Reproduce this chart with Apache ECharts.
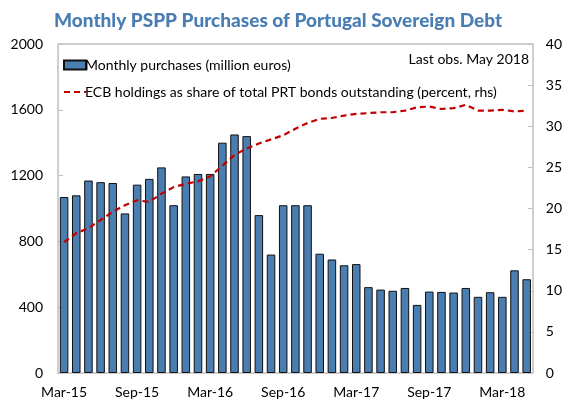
<!DOCTYPE html>
<html>
<head>
<meta charset="utf-8">
<script src="https://cdn.jsdelivr.net/npm/echarts@6/dist/echarts.min.js"></script>
<style>
    html, body { margin: 0; padding: 0; background: #fff; }
    #main { width: 565px; height: 407px; }
</style>
</head>
<body>
<div id="main"></div>
<script>
    // months Mar-15 .. May-18
    const months = [
        'Mar-15', 'Apr-15', 'May-15', 'Jun-15', 'Jul-15', 'Aug-15', 'Sep-15', 'Oct-15', 'Nov-15', 'Dec-15',
        'Jan-16', 'Feb-16', 'Mar-16', 'Apr-16', 'May-16', 'Jun-16', 'Jul-16', 'Aug-16', 'Sep-16', 'Oct-16',
        'Nov-16', 'Dec-16', 'Jan-17', 'Feb-17', 'Mar-17', 'Apr-17', 'May-17', 'Jun-17', 'Jul-17', 'Aug-17',
        'Sep-17', 'Oct-17', 'Nov-17', 'Dec-17', 'Jan-18', 'Feb-18', 'Mar-18', 'Apr-18', 'May-18'
    ];

    // million euros
    const purchases = [
        1070, 1080, 1170, 1160, 1155, 970, 1145, 1180, 1250, 1020,
        1195, 1210, 1210, 1400, 1450, 1440, 960, 720, 1020, 1020,
        1020, 725, 690, 655, 662, 522, 507, 500, 517, 414,
        495, 493, 489, 517, 463, 491, 463, 624, 570
    ];

    // percent, rhs
    const ecbShare = [
        15.9, 17.0, 17.6, 18.6, 19.6, 20.4, 21.0, 20.8, 21.8, 22.6,
        23.0, 23.3, 23.9, 25.2, 26.5, 27.3, 27.9, 28.4, 28.9, 29.7,
        30.4, 30.9, 31.0, 31.3, 31.5, 31.6, 31.7, 31.7, 31.9, 32.3,
        32.4, 32.1, 32.2, 32.6, 31.9, 31.9, 32.0, 31.8, 31.9
    ];

    const seriesNames = [
        'Monthly purchases (million euros)',
        'ECB holdings as share of total PRT bonds outstanding (percent, rhs)'
    ];

    const font = 'Lato, "Open Sans", sans-serif';
    const axisGrey = '#bfbfbf';

    const chart = echarts.init(document.getElementById('main'));

    const option = {
        animation: false,
        textStyle: { fontFamily: font },
        title: {
            text: 'Monthly PSPP Purchases of Portugal Sovereign Debt',
            left: 49,
            top: 6,
            textStyle: { fontFamily: font, fontSize: 19, fontWeight: 900, color: '#4a7eb3' }
        },
        graphic: [{
            type: 'text',
            right: 36,
            top: 52,
            style: { text: 'Last obs. May 2018', fontFamily: font, fontSize: 14, fill: '#000' }
        }],
        legend: {
            orient: 'vertical',
            left: 58,
            top: 53,
            itemGap: 13,
            itemWidth: 22,
            itemHeight: 9,
            textStyle: { fontFamily: font, fontSize: 14, color: '#000', padding: [0, 0, 0, -6] },
            data: [
                { name: seriesNames[0], icon: 'rect' },
                { name: seriesNames[1], itemStyle: { opacity: 0 } }
            ]
        },
        grid: { left: 58, right: 32, top: 44, bottom: 34 },
        xAxis: {
            type: 'category',
            data: months,
            axisLine: { lineStyle: { color: axisGrey, width: 1.5 } },
            axisTick: { show: false },
            axisLabel: {
                interval: 5,
                color: '#000',
                fontSize: 14,
                margin: 12,
                fontFamily: font
            }
        },
        yAxis: [
            {
                type: 'value',
                min: 0,
                max: 2000,
                interval: 400,
                axisLine: { show: true, lineStyle: { color: axisGrey, width: 1.5 } },
                axisTick: { show: true, inside: true, length: 5, lineStyle: { color: axisGrey } },
                splitLine: { show: false },
                axisLabel: {
                    color: '#000', fontSize: 14, margin: 15, fontFamily: font,
                    formatter: v => String(v)
                }
            },
            {
                type: 'value',
                min: 0,
                max: 40,
                interval: 5,
                axisLine: { show: true, lineStyle: { color: axisGrey, width: 1.5 } },
                axisTick: { show: true, inside: true, length: 5, lineStyle: { color: axisGrey } },
                splitLine: { show: false },
                axisLabel: { color: '#000', fontSize: 14, margin: 13, fontFamily: font }
            }
        ],
        series: [
            {
                name: seriesNames[0],
                type: 'bar',
                data: purchases,
                barCategoryGap: '30%',
                itemStyle: { color: '#4a7eb0', borderColor: '#111', borderWidth: 1 }
            },
            {
                name: seriesNames[1],
                type: 'line',
                yAxisIndex: 1,
                data: ecbShare,
                symbol: 'none',
                lineStyle: { color: '#c00000', width: 2.2, type: [6, 4] },
                itemStyle: { color: '#c00000' }
            },
            // top frame line
            {
                type: 'line',
                data: [],
                markLine: {
                    silent: true,
                    symbol: 'none',
                    label: { show: false },
                    lineStyle: { color: axisGrey, type: 'solid', width: 1.5 },
                    data: [{ yAxis: 2000 }]
                }
            }
        ]
    };

    chart.setOption(option);
</script>
</body>
</html>
